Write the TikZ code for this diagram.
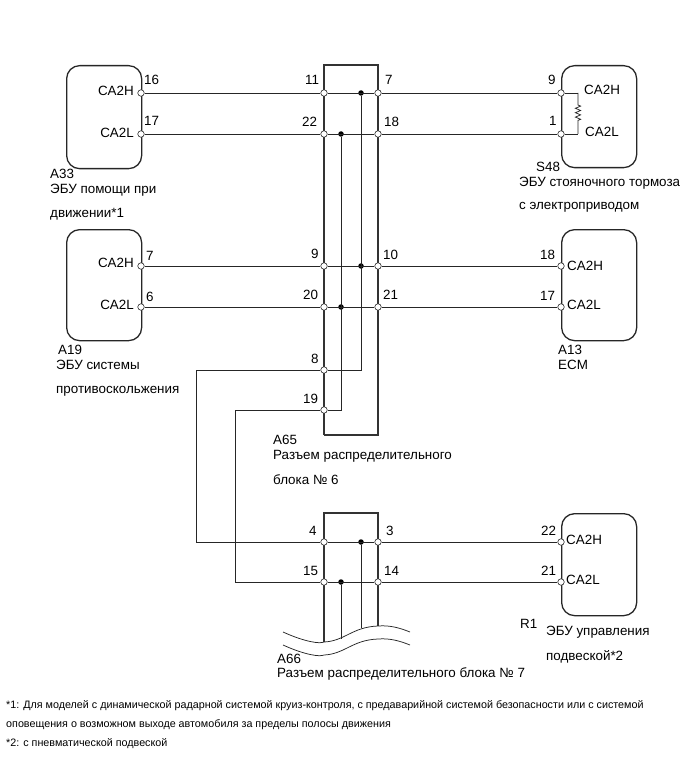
\documentclass[tikz,border=0pt]{standalone}
\usepackage{fontspec}
\setmainfont{Liberation Sans}
\usetikzlibrary{decorations.pathmorphing}

\begin{document}
\begin{tikzpicture}[x=1pt, y=-1pt,
  ecu/.style = {draw=black!85, line width=1.3pt, rounded corners=13pt, anchor=north west, inner sep=0pt},
  pin/.style = {draw=black!85, circle, fill=white, inner sep=0pt, minimum size=6.5pt, line width=0.6pt},
  joint/.style = {circle, fill=black, inner sep=0pt, minimum size=5.5pt},
  txt/.style = {anchor=base west, inner sep=0pt, font=\fontsize{13.4}{14}\selectfont},
  note/.style = {anchor=base west, inner sep=0pt, font=\fontsize{10.75}{11}\selectfont},
  wire/.style = {line width=0.75pt, black!85},
  bar/.style = {line width=1.6pt, black!80}]
\useasboundingbox (0,0) rectangle (691,759);

%ecus
\node[ecu, minimum width=75pt, minimum height=103pt] (a33) at (66,65) {};
\node[ecu, minimum width=75pt, minimum height=111pt] (a19) at (66,229) {};
\node[ecu, minimum width=75pt, minimum height=102pt] (s48) at (561,65) {};
\node[ecu, minimum width=75pt, minimum height=111pt] (a13) at (561,229) {};
\node[ecu, minimum width=75pt, minimum height=102pt] (r1) at (561,513) {};

%cut line of the lower connector
\coordinate (c1) at (283,632);
\coordinate (c2) at (410,632);
\coordinate (d1) at (283,645);
\coordinate (d2) at (410,645);
\coordinate (e1) at (324,642);
\coordinate (e2) at (341,638.5);
\coordinate (e3) at (361,628);
\coordinate (e4) at (378,626);

%connector outlines
\coordinate (t1) at (324,65);
\coordinate (t2) at (378,65);
\coordinate (t3) at (324,435);
\coordinate (t4) at (378,435);
\coordinate (u1) at (324,513);
\coordinate (u2) at (378,513);
\draw[bar] (t3) -- (t1) -- (t2) -- (t4) -- (t3);
\draw[bar] (e1) -- (u1) -- (u2) -- (e4);
\draw[wire] (c1) .. controls (305,642) and (320,644) .. (e1) .. controls (345,641) and (352,627) .. (e4) .. controls (390,625) and (400,628) .. (c2);
\draw[wire] (d1) .. controls (305,655) and (320,657) .. (324,655) .. controls (345,654) and (352,640) .. (378,639) .. controls (390,638) and (400,641) .. (d2);

%bends
\coordinate (b1) at (196,370);
\coordinate (b2) at (196,542);
\coordinate (b3) at (235,410);
\coordinate (b4) at (235,582);
\coordinate (r3) at (578,93);
\coordinate (r4) at (578,134);

%pins
\node[pin] (p16) at (141,93) {};
\node[pin] (p17) at (141,134) {};
\node[pin] (p11) at (324,93) {};
\node[pin] (p22) at (324,134) {};
\node[pin] (p7) at (378,93) {};
\node[pin] (p18) at (378,134) {};
\node[pin] (p9) at (561,93) {};
\node[pin] (p1) at (561,134) {};
\node[pin] (q7) at (141,266) {};
\node[pin] (q6) at (141,307) {};
\node[pin] (q9) at (324,266) {};
\node[pin] (q20) at (324,307) {};
\node[pin] (q10) at (378,266) {};
\node[pin] (q21) at (378,307) {};
\node[pin] (q18) at (561,266) {};
\node[pin] (q17) at (561,307) {};
\node[pin] (q8) at (324,370) {};
\node[pin] (q19) at (324,410) {};
\node[pin] (s4) at (324,542) {};
\node[pin] (s15) at (324,582) {};
\node[pin] (s3) at (378,542) {};
\node[pin] (s14) at (378,582) {};
\node[pin] (s22) at (561,542) {};
\node[pin] (s21) at (561,582) {};

%joints
\node[joint] (j1) at (361,93) {};
\node[joint] (j2) at (341,134) {};
\node[joint] (j3) at (361,266) {};
\node[joint] (j4) at (341,307) {};
\node[joint] (j5) at (361,542) {};
\node[joint] (j6) at (341,582) {};
\coordinate (k1) at (361,370);
\coordinate (k2) at (341,410);

%wires
\draw[wire] (p16) -- (p11);
\draw[wire] (p11) -- (p7);
\draw[wire] (p7) -- (p9);
\draw[wire] (p17) -- (p22);
\draw[wire] (p22) -- (p18);
\draw[wire] (p18) -- (p1);
\draw[wire] (q7) -- (q9);
\draw[wire] (q9) -- (q10);
\draw[wire] (q10) -- (q18);
\draw[wire] (q6) -- (q20);
\draw[wire] (q20) -- (q21);
\draw[wire] (q21) -- (q17);
\draw[wire] (j1) -- (k1) -- (q8);
\draw[wire] (j2) -- (k2) -- (q19);
\draw[wire] (j3) -- (k1);
\draw[wire] (j4) -- (k2);
\draw[wire] (q8) -- (b1) -- (b2) -- (s4);
\draw[wire] (q19) -- (b3) -- (b4) -- (s15);
\draw[wire] (s4) -- (s3);
\draw[wire] (s3) -- (s22);
\draw[wire] (s15) -- (s14);
\draw[wire] (s14) -- (s21);
\draw[wire] (j5) -- (e3);
\draw[wire] (j6) -- (e2);
\draw[wire] (p9) -- (r3);
\draw[wire] (p1) -- (r4);
\draw[wire, decorate, decoration={zigzag, amplitude=2.6pt, segment length=4.4pt, pre length=12pt, post length=12pt}] (r3) -- (r4);

%pin numbers
\node[txt] (n16) at (144,85) {16};
\node[txt] (n17) at (144,126) {17};
\node[txt] (n11) at (305,85) {11};
\node[txt] (n22) at (302,127) {22};
\node[txt] (n7) at (385,85) {7};
\node[txt] (n18) at (384,127) {18};
\node[txt] (n9) at (548,85) {9};
\node[txt] (n1) at (549,126) {1};
\node[txt] (m7) at (146,260) {7};
\node[txt] (m6) at (146,301) {6};
\node[txt] (m9) at (311,258) {9};
\node[txt] (m20) at (303,299) {20};
\node[txt] (m10) at (383,259) {10};
\node[txt] (m21) at (383,299) {21};
\node[txt] (m18) at (540,259) {18};
\node[txt] (m17) at (540,300) {17};
\node[txt] (m8) at (311,363) {8};
\node[txt] (m19) at (303,403) {19};
\node[txt] (o4) at (309,535) {4};
\node[txt] (o15) at (303,575) {15};
\node[txt] (o3) at (386,535) {3};
\node[txt] (o14) at (384,575) {14};
\node[txt] (o22) at (541,535) {22};
\node[txt] (o21) at (541,575) {21};

%terminal names
\node[txt, anchor=base east] (h1) at (134,96) {CA2H};
\node[txt, anchor=base east] (l1) at (134,138) {CA2L};
\node[txt, anchor=base east] (h2) at (134,267) {CA2H};
\node[txt, anchor=base east] (l2) at (134,309) {CA2L};
\node[txt] (h3) at (584,95) {CA2H};
\node[txt] (l3) at (585,137) {CA2L};
\node[txt] (h4) at (567,270) {CA2H};
\node[txt] (l4) at (567,309) {CA2L};
\node[txt] (h5) at (566,544) {CA2H};
\node[txt] (l5) at (566,584) {CA2L};

%captions
\node[txt] (a33a) at (50,178.5) {A33};
\node[txt] (a33b) at (50,194) {ЭБУ помощи при};
\node[txt] (a33c) at (50,218) {движении*1};
\node[txt] (a19a) at (58,354) {A19};
\node[txt] (a19b) at (56,369) {ЭБУ системы};
\node[txt] (a19c) at (56,393) {противоскольжения};
\node[txt] (s48a) at (536,172) {S48};
\node[txt] (s48b) at (519,187) {ЭБУ стояночного тормоза};
\node[txt] (s48c) at (519,209) {с электроприводом};
\node[txt] (a13a) at (558,354) {A13};
\node[txt] (a13b) at (558,369) {ECM};
\node[txt] (a65a) at (273,444) {A65};
\node[txt] (a65b) at (273,459) {Разъем распределительного};
\node[txt] (a65c) at (273,484) {блока № 6};
\node[txt] (a66a) at (277,663) {A66};
\node[txt] (a66b) at (277,677) {Разъем распределительного блока № 7};
\node[txt] (r1a) at (520,628) {R1};
\node[txt] (r1b) at (546,635) {ЭБУ управления};
\node[txt] (r1c) at (546,660) {подвеской*2};

%notes
\node[note] (f1) at (6,708) {*1: Для моделей с динамической радарной системой круиз-контроля, с предаварийной системой безопасности или с системой};
\node[note] (f2) at (6,727) {оповещения о возможном выходе автомобиля за пределы полосы движения};
\node[note] (f3) at (6,746) {*2: с пневматической подвеской};
\end{tikzpicture}
\end{document}
